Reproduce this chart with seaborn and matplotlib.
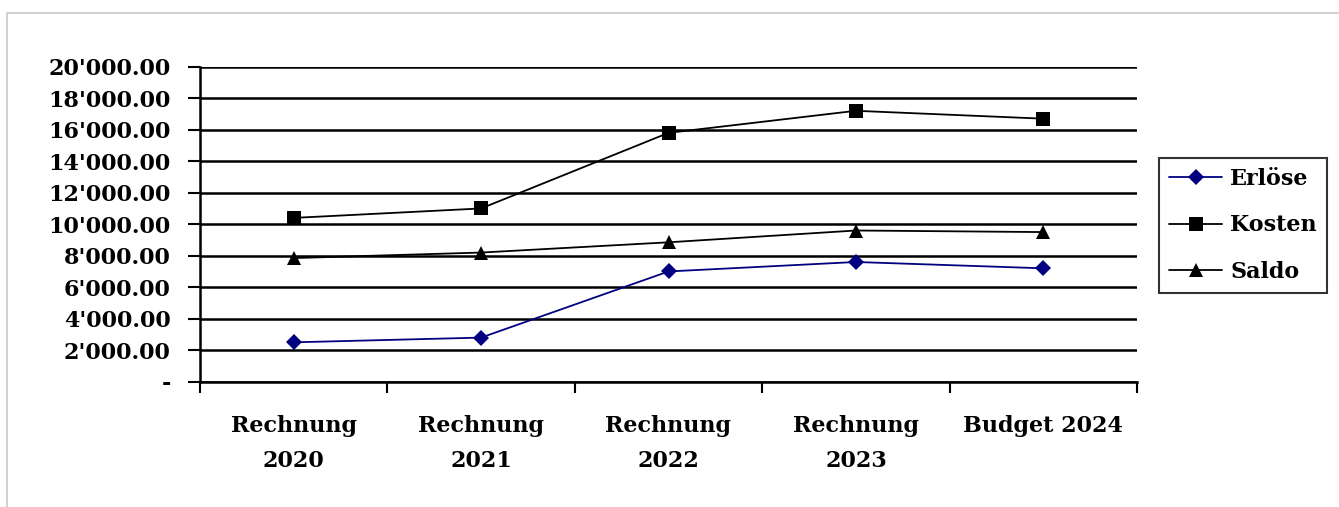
import pandas as pd
import matplotlib.pyplot as plt
import seaborn as sns
from matplotlib.ticker import FuncFormatter, FixedLocator
from matplotlib.patches import Rectangle

# --- DATI ---
perioden = ["Rechnung\n2020", "Rechnung\n2021", "Rechnung\n2022", "Rechnung\n2023", "Budget 2024"]
erloese = [2500, 2800, 7000, 7600, 7200]
kosten = [10400, 11000, 15800, 17200, 16700]
saldo = [7850, 8200, 8850, 9600, 9500]

df = pd.DataFrame({
    "pos": list(range(len(perioden))) * 3,
    "wert": erloese + kosten + saldo,
    "serie": ["Erlöse"] * 5 + ["Kosten"] * 5 + ["Saldo"] * 5,
})

sns.set_style("white")
plt.rcParams['font.family'] = ['DejaVu Serif']
plt.rcParams['font.weight'] = 'bold'
plt.rcParams['text.color'] = 'black'
plt.rcParams['xtick.color'] = 'black'
plt.rcParams['ytick.color'] = 'black'
plt.rcParams['axes.labelcolor'] = 'black'

fig = plt.figure(figsize=(13.39, 5.07), dpi=100)
ax = fig.add_axes([200 / 1339, 1 - 381.7 / 507, 937 / 1339, 315 / 507])

# rahmen grigio del chart
fig.patches.append(Rectangle((7 / 1339, -0.1), 1.2, 1 - 13 / 507 + 0.1, transform=fig.transFigure,
                             fill=False, edgecolor='#c8c8c8', linewidth=1.2))

palette = {"Erlöse": "#000080", "Kosten": "black", "Saldo": "black"}
markers = {"Erlöse": "D", "Kosten": "s", "Saldo": "^"}
sizes = {"Erlöse": 8, "Kosten": 10, "Saldo": 10}

for name in ["Erlöse", "Kosten", "Saldo"]:
    sub = df[df["serie"] == name]
    sns.lineplot(data=sub, x="pos", y="wert", ax=ax, color=palette[name], marker=markers[name],
                 markersize=sizes[name], markeredgewidth=0, linewidth=1.3, label=name)

ax.set_ylim(0, 20000)
ax.set_xlim(-0.5, len(perioden) - 0.5)
ax.set_yticks(range(0, 20001, 2000))
ax.yaxis.set_major_formatter(FuncFormatter(lambda v, p: "-" if v == 0 else f"{v:,.2f}".replace(",", "'")))
ax.grid(axis='y', color='black', linewidth=1.8)
ax.set_axisbelow(True)

ax.xaxis.set_major_locator(FixedLocator([i - 0.5 for i in range(len(perioden) + 1)]))
ax.xaxis.set_minor_locator(FixedLocator(list(range(len(perioden)))))
ax.set_xticklabels([""] * (len(perioden) + 1))
ax.set_xticklabels(perioden, minor=True)
ax.tick_params(axis='x', which='major', length=8, width=1.5, color='black', direction='out', bottom=True)
ax.tick_params(axis='x', which='minor', length=0, pad=24, labelsize=16, labelcolor='black')
ax.tick_params(axis='y', length=9, width=1.5, color='black', direction='out', left=True, pad=12,
               labelsize=16, labelcolor='black')
for lbl in ax.get_xticklabels(minor=True):
    lbl.set_linespacing(1.75)
    lbl.set_fontweight('bold')
for lbl in ax.get_yticklabels():
    lbl.set_fontweight('bold')

for side in ["top", "right"]:
    ax.spines[side].set_visible(False)
for side in ["left", "bottom"]:
    ax.spines[side].set_color('black')
    ax.spines[side].set_linewidth(1.8)
ax.set_xlabel("")
ax.set_ylabel("")

leg = ax.legend(loc='upper left', bbox_to_anchor=(1159 / 1339, 1 - 158 / 507), bbox_transform=fig.transFigure,
                frameon=True, fancybox=False, edgecolor='black', prop={'size': 16, 'weight': 'bold'},
                handlelength=2.4, labelspacing=1.1, borderpad=0.45, handletextpad=0.35, borderaxespad=0)
leg.get_frame().set_linewidth(1.5)
for t in leg.get_texts():
    t.set_color('black')

fig.savefig("out.png", dpi=100)
